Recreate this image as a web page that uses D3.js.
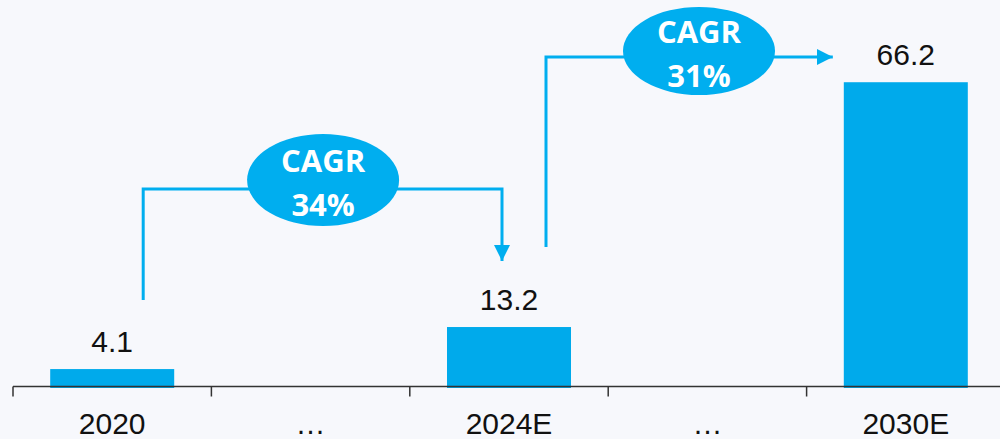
<!DOCTYPE html>
<html><head><meta charset="utf-8">
<script src="https://cdn.jsdelivr.net/npm/d3@7"></script>
<style>
html,body{margin:0;padding:0;background:#f7f8fc;}
svg{display:block;}
</style></head>
<body>
<svg id="chart" width="1000" height="439"></svg>
<script>
const categories = ["2020", "…", "2024E", "…", "2030E"];
const values = [4.1, null, 13.2, null, 66.2];
const cagrLabels = ["34%", "31%"];
const cagrFrom = [0, 2];
const cagrTo = [2, 4];

const W = 1000, H = 439;
const svg = d3.select("#chart");
const blue = "#00aaeb";
const lineBlue = "#00aeef";

const keys = categories.map((c, i) => i);
const x = d3.scaleBand().domain(keys).range([13, 1005]).paddingInner(0.375).paddingOuter(0.1875);
const xTicks = d3.scaleBand().domain(keys).range([13, 1005]);
const y = d3.scaleLinear().domain([0, 84]).range([388, 0]);

const data = keys.map(i => ({i, v: values[i]})).filter(d => d.v != null);

svg.append("g").selectAll("rect").data(data).join("rect")
  .attr("x", d => x(d.i)).attr("width", x.bandwidth())
  .attr("y", d => y(d.v)).attr("height", d => y(0) - y(d.v))
  .attr("fill", blue);

svg.append("g").selectAll("text").data(data).join("text")
  .attr("x", d => x(d.i) + x.bandwidth() / 2)
  .attr("y", d => y(d.v) - 17)
  .attr("text-anchor", "middle")
  .attr("font-family", "'Liberation Sans', Arial, sans-serif")
  .attr("font-size", 30).attr("fill", "#111")
  .text(d => d.v.toFixed(1));

// axis
const axisY = 386.5;
const ax = svg.append("g").attr("stroke", "#333").attr("stroke-width", 1.5);
ax.append("line").attr("x1", 13).attr("x2", W).attr("y1", axisY).attr("y2", axisY);
ax.selectAll("line.t").data(keys).join("line").attr("class", "t")
  .attr("x1", d => xTicks(d)).attr("x2", d => xTicks(d))
  .attr("y1", axisY).attr("y2", axisY + 10);

svg.append("g").selectAll("text").data(keys).join("text")
  .attr("x", d => xTicks(d) + xTicks.bandwidth() / 2)
  .attr("y", 434)
  .attr("text-anchor", "middle")
  .attr("font-family", "'Liberation Sans', Arial, sans-serif")
  .attr("font-size", 30).attr("fill", "#111")
  .text(d => categories[d]);

// arrow marker
const defs = svg.append("defs");
defs.append("marker").attr("id", "arr").attr("viewBox", "0 0 10 10")
  .attr("refX", 10).attr("refY", 5).attr("markerWidth", 16).attr("markerHeight", 16)
  .attr("markerUnits", "userSpaceOnUse").attr("orient", "auto")
  .append("path").attr("d", "M0,0 L10,5 L0,10 Z").attr("fill", lineBlue);

const cx = i => x(i) + x.bandwidth() / 2;

function bubble(ex, ey, ry, label) {
  svg.append("ellipse").attr("cx", ex).attr("cy", ey).attr("rx", 76).attr("ry", ry).attr("fill", lineBlue);
  const t = svg.append("text").attr("text-anchor", "middle").attr("fill", "#fff")
    .attr("font-family", "'Open Sans', sans-serif").attr("font-weight", "bold").attr("font-size", 31);
  t.append("tspan").attr("x", ex).attr("y", ey - 8.5).text("CAGR");
  t.append("tspan").attr("x", ex).attr("y", ey + 36).text(label);
}

// CAGR 1: from 2020 to 2024E
{
  const x0 = cx(cagrFrom[0]) + 31, yBottom = y(values[cagrFrom[0]]) - 69;
  const hy = 189, x1 = cx(cagrTo[0]) - 7, tipY = 261;
  svg.append("path").attr("d", `M${x0},${yBottom} V${hy} H${x1} V${tipY}`)
    .attr("fill", "none").attr("stroke", lineBlue).attr("stroke-width", 3).attr("marker-end", "url(#arr)");
  bubble((x0 + x1) / 2 + 0.5, 180, 46, cagrLabels[0]);
}
// CAGR 2: from 2024E to 2030E
{
  const x0 = cx(cagrFrom[1]) + 37, yBottom = 247;
  const hy = 57, tipX = x(cagrTo[1]) - 11;
  svg.append("path").attr("d", `M${x0},${yBottom} V${hy} H${tipX}`)
    .attr("fill", "none").attr("stroke", lineBlue).attr("stroke-width", 3).attr("marker-end", "url(#arr)");
  bubble(699, 51, 44, cagrLabels[1]);
}
</script>
</body></html>
